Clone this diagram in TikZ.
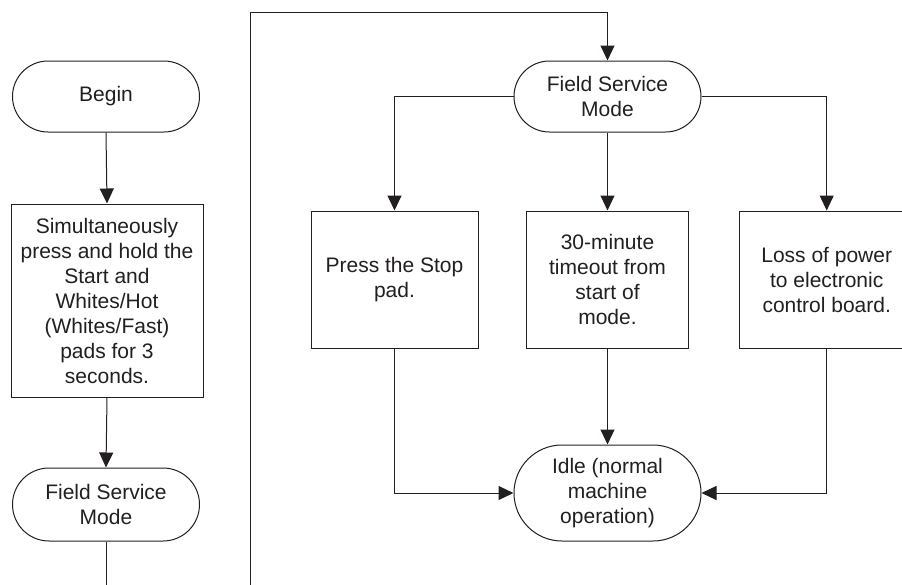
\documentclass[tikz,border=0pt]{standalone}
\usepackage{fontspec}
\setmainfont{Liberation Sans}
\usepackage{tikz}
\usetikzlibrary{shapes.misc,arrows.meta,positioning,calc}
\definecolor{inkgray}{HTML}{231F20}

\begin{document}
\begin{tikzpicture}[
      x=1pt, y=-1pt,
      terminal/.style={rounded rectangle, draw=inkgray, fill=white, line width=1pt,
                       minimum width=191pt, inner sep=2pt, align=center,
                       text=inkgray, font=\fontsize{21}{25}\selectfont},
      stepbox/.style={rectangle, draw=inkgray, fill=white, line width=1pt,
                      minimum height=137pt, inner sep=2pt, align=center,
                      text=inkgray, font=\fontsize{21}{25}\selectfont},
      arrow/.style={-{Triangle[length=15pt, width=14pt]}, line width=1pt, color=inkgray}
    ]
      \useasboundingbox (0,0) rectangle (902,584);
      %% Left column: entering the mode
      \node[terminal, minimum height=71pt] (begin) at (106, 96.5) {Begin};
      \node[stepbox, minimum width=192pt, minimum height=193pt] (hold) at (107, 300.5)
          {Simultaneously\\ press and hold the\\ Start and\\ Whites/Hot\\
           (Whites/Fast)\\ pads for 3\\ seconds.};
      \node[terminal, minimum height=73pt] (fsmleft) at (106, 504.5)
          {Field Service\\ Mode};
      \coordinate (leftend) at (106, 600);
      \draw[arrow] (begin.south) -- (hold.north);
      \draw[arrow] (hold.south) -- (fsmleft.north);
      \draw[line width=1pt, color=inkgray] (fsmleft.south) -- (leftend);
      %% Right part: leaving the mode
      \node[terminal, minimum height=71pt] (fsm) at (607.5, 96.5)
          {Field Service\\ Mode};
      \node[stepbox, minimum width=167pt] (stoppad) at (394.5, 279.5)
          {Press the Stop\\ pad.};
      \node[stepbox, minimum width=162pt] (timeout) at (607.5, 279.5)
          {30-minute\\ timeout from\\ start of\\ mode.};
      \node[stepbox, minimum width=175pt] (powerloss) at (826.7, 279.5)
          {Loss of power\\ to electronic\\ control board.};
      \node[terminal, minimum height=96pt] (idle) at (607.5, 493)
          {Idle (normal\\ machine\\ operation)};
      \coordinate (loopbot) at (250.7, 600);
      \coordinate (looptop) at (250.7, 12.7);
      \draw[arrow] (loopbot) -- (looptop) -| (fsm.north);
      \draw[arrow] (fsm.west) -| (stoppad.north);
      \draw[arrow] (fsm.south) -- (timeout.north);
      \draw[arrow] (fsm.east) -| (powerloss.north);
      \draw[arrow] (stoppad.south) |- (idle.west);
      \draw[arrow] (timeout.south) -- (idle.north);
      \draw[arrow] (powerloss.south) |- (idle.east);
    \end{tikzpicture}
\end{document}
